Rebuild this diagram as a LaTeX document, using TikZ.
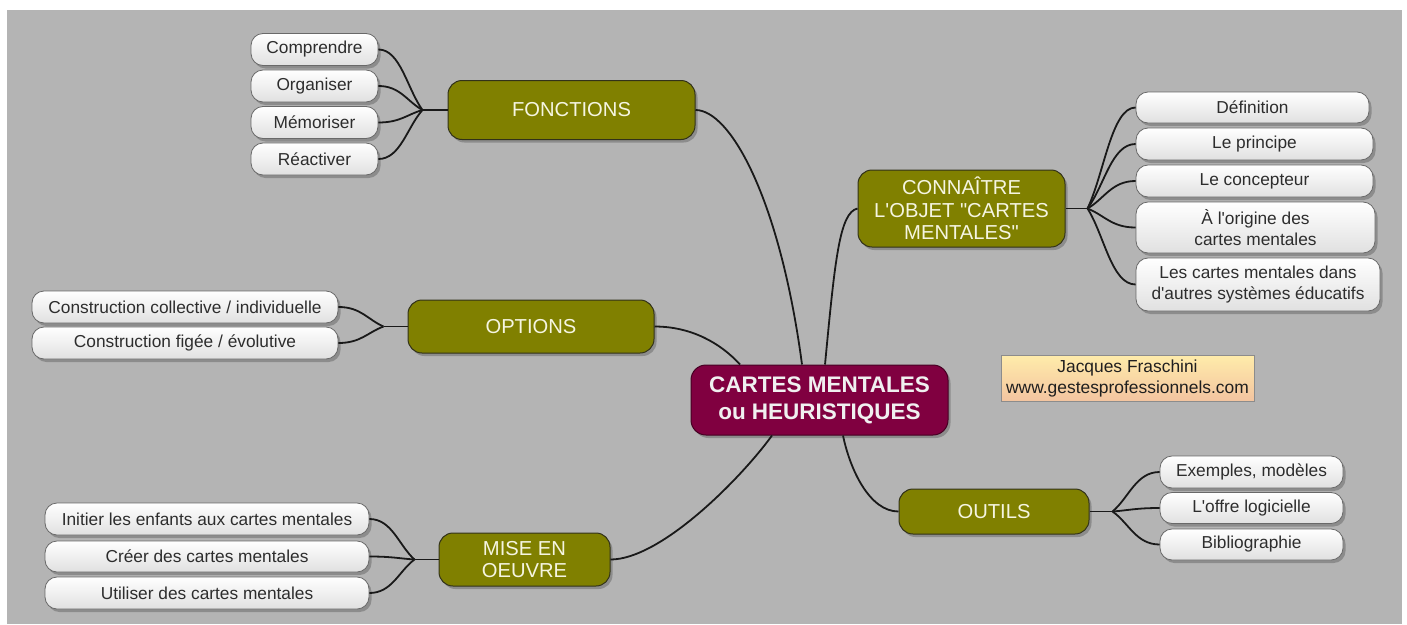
\documentclass[tikz,border=0pt]{standalone}
\usepackage{fontspec}
\newfontfamily\lsans{Liberation Sans}
\usetikzlibrary{shadows,calc}
\definecolor{bg}{RGB}{180,180,180}
\definecolor{olivef}{RGB}{128,128,0}
\definecolor{oliveb}{RGB}{50,50,25}
\definecolor{maroonf}{RGB}{128,0,64}
\definecolor{maroonb}{RGB}{70,0,35}
\definecolor{leaftext}{RGB}{45,45,45}
\definecolor{leafb}{RGB}{105,105,105}
\definecolor{linec}{RGB}{25,25,25}
\definecolor{authtop}{RGB}{255,236,170}
\definecolor{authbot}{RGB}{243,196,160}
\definecolor{brtext}{RGB}{245,245,225}
\begin{document}
\begin{tikzpicture}[x=1pt,y=-1pt,
  shad/.style={drop shadow={shadow xshift=2.5pt,shadow yshift=-3pt,opacity=0.22,fill=black}},
  leaf/.style={draw=leafb, line width=0.8pt, rounded corners=12pt, top color=white, bottom color=black!12,
    text=leaftext, font=\lsans\fontsize{17.3}{21.5}\selectfont, align=center, inner sep=0pt, shad},
  branch/.style={draw=oliveb, line width=1pt, fill=olivef, rounded corners=14pt, text=brtext,
    font=\lsans\fontsize{20.2}{22.7}\selectfont, align=center, inner sep=0pt, shad},
  centre/.style={draw=maroonb, line width=1pt, fill=maroonf, rounded corners=15pt, text=white!94!black,
    font=\lsans\bfseries\fontsize{22.5}{27}\selectfont, align=center, inner sep=0pt, shad},
  author/.style={draw=black!45, line width=0.8pt, top color=authtop, bottom color=authbot, text=black!88,
    font=\lsans\fontsize{17.4}{21}\selectfont, align=center, inner sep=0pt},
  conn/.style={draw=linec, line width=1.8pt},
  leafline/.style={to path={.. controls ($(\tikztostart)!0.5!(\tikztostart -| \tikztotarget)$) and ($(\tikztotarget)!0.35!(\tikztostart)$) .. (\tikztotarget)}}
]
\useasboundingbox (0,0) rectangle (1407,624);
\fill[white] (0,0) rectangle (1407,624);
\fill[bg] (7,10) rectangle (1402,624);

% central
\node[centre, minimum width=257pt, minimum height=70pt] (cen) at (819.5,400) {CARTES MENTALES\\ou HEURISTIQUES};

% branches
\node[branch, minimum width=247pt, minimum height=59pt] (fonc) at (571.5,110) {FONCTIONS};
\node[branch, minimum width=207pt, minimum height=77pt] (conn) at (961.5,208.5) {CONNAÎTRE\\L'OBJET "CARTES\\MENTALES"};
\node[branch, minimum width=246pt, minimum height=53pt] (opt) at (531,326.5) {OPTIONS};
\node[branch, minimum width=171pt, minimum height=53pt] (mise) at (524.5,559.5) {MISE EN\\OEUVRE};
\node[branch, minimum width=190pt, minimum height=45pt] (out) at (994,511.5) {OUTILS};

% author
\node[author, minimum width=253pt, minimum height=46pt] (auth) at (1127.5,378) {Jacques Fraschini\\www.gestesprofessionnels.com};

% fonctions leaves
\node[leaf, minimum width=127pt, minimum height=32pt] (f1) at (314.5,49.5) {Comprendre};
\node[leaf, minimum width=127pt, minimum height=32pt] (f2) at (314.5,86) {Organiser};
\node[leaf, minimum width=127pt, minimum height=32pt] (f3) at (314.5,122.5) {Mémoriser};
\node[leaf, minimum width=127pt, minimum height=32pt] (f4) at (314.5,159) {Réactiver};

% connaitre leaves
\node[leaf, minimum width=233pt, minimum height=31pt] (c1) at (1252.5,107.5) {Définition};
\node[leaf, minimum width=237pt, minimum height=32pt] (c2) at (1254.5,144) {Le principe};
\node[leaf, minimum width=237pt, minimum height=32pt] (c3) at (1254.5,181) {Le concepteur};
\node[leaf, minimum width=239pt, minimum height=51pt] (c4) at (1255.5,227.5) {À l'origine des\\cartes mentales};
\node[leaf, minimum width=244pt, minimum height=53pt] (c5) at (1258,284.5) {Les cartes mentales dans\\d'autres systèmes éducatifs};

% options leaves
\node[leaf, minimum width=306pt, minimum height=32pt] (o1) at (185,307) {Construction collective / individuelle};
\node[leaf, minimum width=306pt, minimum height=32pt] (o2) at (185,343) {Construction figée / évolutive};

% mise en oeuvre leaves
\node[leaf, minimum width=324pt, minimum height=32pt] (m1) at (207,519) {Initier les enfants aux cartes mentales};
\node[leaf, minimum width=324pt, minimum height=31pt] (m2) at (207,556.5) {Créer des cartes mentales};
\node[leaf, minimum width=324pt, minimum height=32pt] (m3) at (207,593) {Utiliser des cartes mentales};

% outils leaves
\node[leaf, minimum width=183pt, minimum height=32pt] (u1) at (1251.5,472) {Exemples, modèles};
\node[leaf, minimum width=183pt, minimum height=31pt] (u2) at (1251.5,508) {L'offre logicielle};
\node[leaf, minimum width=183pt, minimum height=31pt] (u3) at (1251.5,544.5) {Bibliographie};

% junctions
\coordinate (jf) at ([xshift=-25pt]fonc.west);
\coordinate (jc) at ([xshift=22pt]conn.east);
\coordinate (jo) at ([xshift=-24pt]opt.west);
\coordinate (jm) at ([xshift=-24pt]mise.west);
\coordinate (ju) at ([xshift=23pt]out.east);

% branch connectors
\draw[conn] (fonc.east) .. controls +(35,0) and +(-22,-165) .. ([xshift=-17.5pt]cen.north);
\draw[conn] (opt.east) .. controls +(36,0) and +(-20,-22) .. ([xshift=-79.5pt]cen.north);
\draw[conn] (conn.west) .. controls +(-18,4) and +(10,-105) .. ([xshift=5.5pt]cen.north);
\draw[conn] (mise.east) .. controls +(50,0) and +(-32,44) .. ([xshift=-47.5pt]cen.south);
\draw[conn] (out.west) .. controls +(-29,0) and +(7,34) .. ([xshift=23.5pt]cen.south);

% junction stubs
\draw[conn] (fonc.west) -- (jf);
\draw[conn] (conn.east) -- (jc);
\draw[conn] (opt.west) -- (jo);
\draw[conn] (mise.west) -- (jm);
\draw[conn] (out.east) -- (ju);

% leaf connectors
\foreach \n in {f1,f2,f3,f4} \draw[conn] (\n.east) to[leafline] (jf);
\foreach \n in {c1,c2,c3,c4,c5} \draw[conn] (\n.west) to[leafline] (jc);
\foreach \n in {o1,o2} \draw[conn] (\n.east) to[leafline] (jo);
\foreach \n in {m1,m2,m3} \draw[conn] (\n.east) to[leafline] (jm);
\foreach \n in {u1,u2,u3} \draw[conn] (\n.west) to[leafline] (ju);
\end{tikzpicture}
\end{document}
